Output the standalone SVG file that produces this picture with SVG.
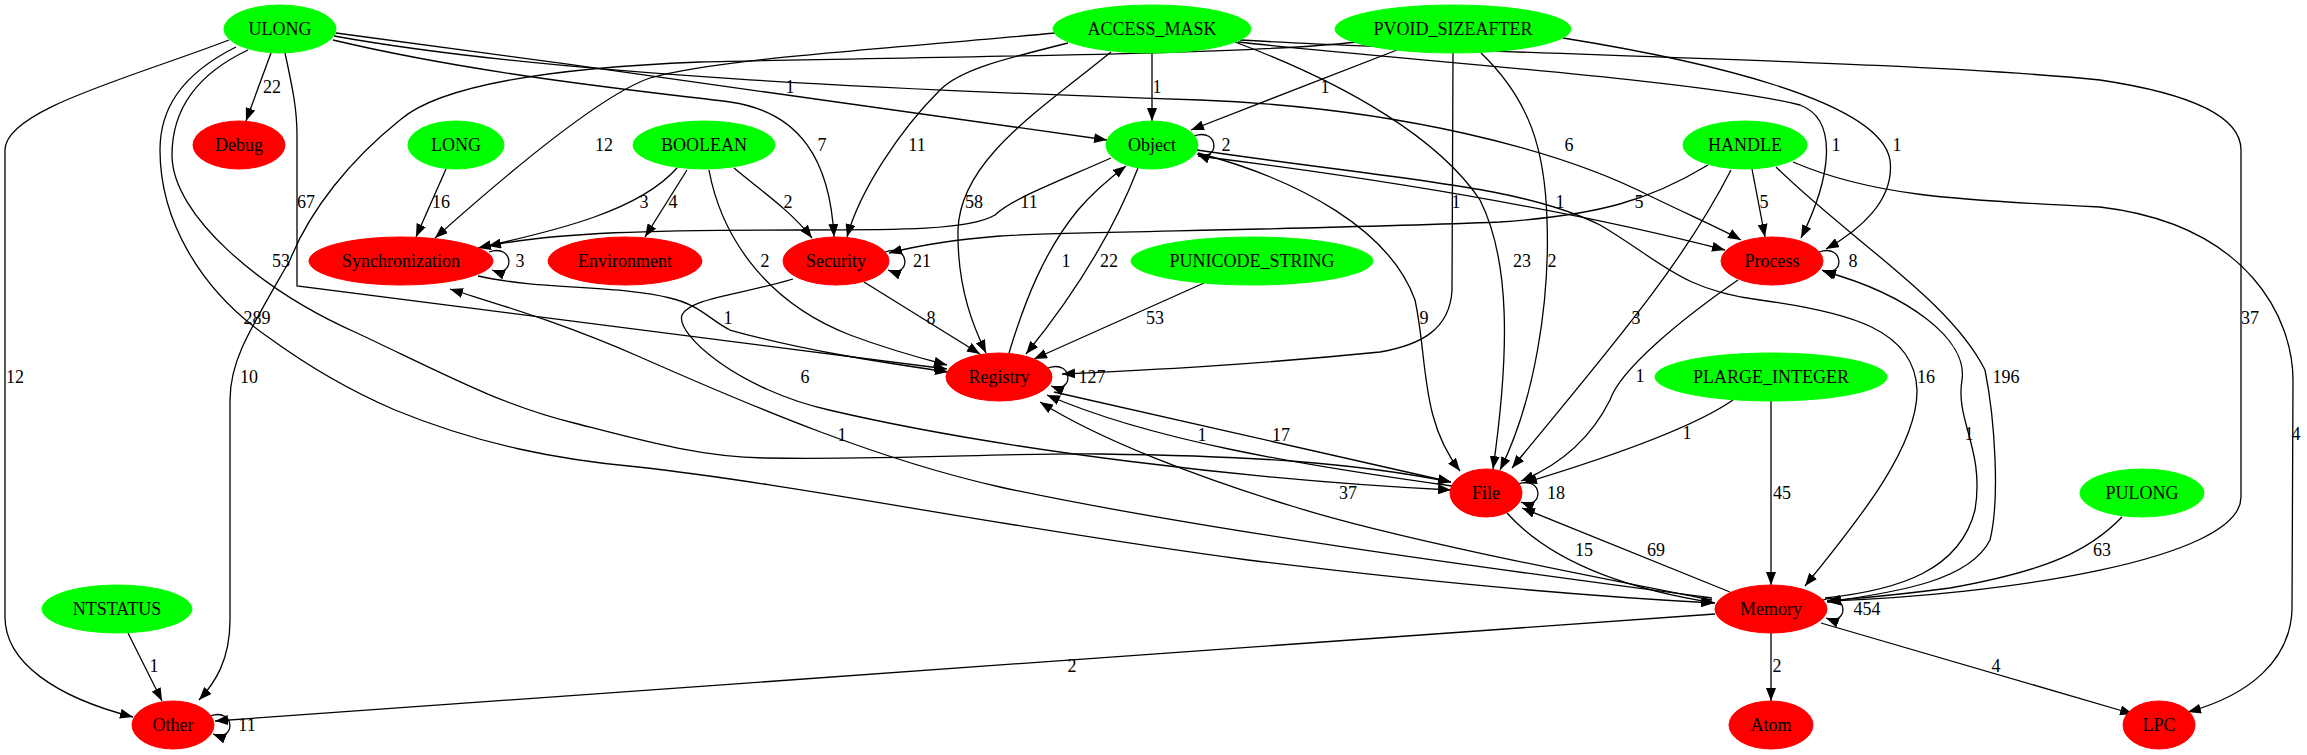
<svg xmlns="http://www.w3.org/2000/svg" width="2307" height="755" viewBox="0 0 2307 755">
<defs>
<marker id="ah" markerUnits="userSpaceOnUse" markerWidth="14" markerHeight="10" refX="13" refY="5" orient="auto"><path d="M0,0 L13,5 L0,10 Z" fill="#000"/></marker>
<style>
.n text, .e text { font-family: "Liberation Serif", "Times New Roman", serif; font-size: 18px; fill: #000; text-anchor: middle; }
.g ellipse { fill: #00ff00; stroke: #00ff00; }
.r ellipse { fill: #ff0000; stroke: #ff0000; }
.e path { fill: none; stroke: #000; stroke-width: 1.3; marker-end: url(#ah); }
</style>
</defs>
<rect width="2307" height="755" fill="#fff"/>
<g id="connectors">
<g class="e"><path d="M271,53 L246,121"/><text x="272" y="93">22</text></g>
<g class="e"><path d="M229,40 C130,78 5,110 5,150 L5,617 C5,662 55,697 133,717"/><text x="15" y="383">12</text></g>
<g class="e"><path d="M285,53 C293,90 297,110 297,135 L297,286 L947,369"/><text x="306" y="208">67</text></g>
<g class="e"><path d="M248,50 C195,75 172,110 172,155 C172,215 260,290 357,333 C440,372 500,405 574,423 C640,440 700,457 765,458 C900,460 1000,453 1100,454 C1250,456 1350,462 1451,482"/><text x="281" y="267">53</text></g>
<g class="e"><path d="M236,47 C180,75 160,110 160,150 C160,220 200,290 268,337 C320,375 360,395 395,410 C480,445 560,460 638,467 C800,485 1000,527 1248,560 C1450,585 1600,597 1714,603"/><text x="257" y="324">289</text></g>
<g class="e"><path d="M333,40 C480,75 650,92 730,102 C800,112 830,160 834,237"/><text x="822" y="151">7</text></g>
<g class="e"><path d="M336,33 C600,68 900,110 1107,140"/><text x="790" y="93">1</text></g>
<g class="e"><path d="M334,36 C550,75 900,90 1200,100 C1400,108 1560,150 1650,196 C1700,220 1725,231 1741,240"/><text x="1569" y="151">6</text></g>
<g class="e"><path d="M1055,33 C900,48 720,58 650,78 C600,95 500,180 435,238"/><text x="604" y="151">12</text></g>
<g class="e"><path d="M1357,42 C1250,55 900,57 700,62 C550,68 440,85 400,120 C350,160 310,210 290,260 C250,330 230,360 230,400 L230,620 C230,660 215,683 199,700"/><text x="249" y="383">10</text></g>
<g class="e"><path d="M1068,43 C1000,60 960,70 940,90 C900,130 860,190 847,237"/><text x="917" y="151">11</text></g>
<g class="e"><path d="M1111,52 C1040,110 960,160 958,230 C957,290 975,330 986,353"/><text x="974" y="208">58</text></g>
<g class="e"><path d="M1152,53 L1152,121"/><text x="1157" y="93">1</text></g>
<g class="e"><path d="M1235,42 C1350,85 1440,140 1480,200 C1510,260 1510,350 1493,469"/><text x="1522" y="267">23</text></g>
<g class="e"><path d="M1238,42 C1400,60 1700,80 1800,105 C1840,120 1830,180 1801,238"/><text x="1836" y="151">1</text></g>
<g class="e"><path d="M1240,40 C1500,55 1900,60 2100,80 C2200,95 2241,120 2241,150 L2241,497 C2241,560 2000,595 1828,601"/><text x="2250" y="324">37</text></g>
<g class="e"><path d="M1397,50 L1191,130"/><text x="1325" y="93">1</text></g>
<g class="e"><path d="M1453,53 L1452,290 C1450,330 1420,345 1380,352 C1250,365 1150,370 1062,374"/><text x="1456" y="208">1</text></g>
<g class="e"><path d="M1481,53 C1530,100 1545,150 1547,220 C1550,300 1535,400 1500,470"/><text x="1552" y="267">2</text></g>
<g class="e"><path d="M1563,38 C1700,60 1880,100 1890,160 C1895,200 1860,230 1826,249"/><text x="1897" y="151">1</text></g>
<g class="e"><path d="M446,169 L416,237"/><text x="441" y="208">16</text></g>
<g class="e"><path d="M677,168 C640,210 560,230 478,248"/><text x="644" y="208">3</text></g>
<g class="e"><path d="M687,170 L645,237"/><text x="673" y="208">4</text></g>
<g class="e"><path d="M734,168 C760,190 790,210 812,238"/><text x="788" y="208">2</text></g>
<g class="e"><path d="M709,170 C720,230 760,300 850,335 C890,350 920,358 947,365"/><text x="765" y="267">2</text></g>
<g class="e"><path d="M478,276 C540,290 620,285 670,298 C700,305 710,320 730,330 C800,350 880,362 948,372"/><text x="728" y="324">1</text></g>
<g class="e"><path d="M1111,158 C1050,185 1010,200 995,215 C970,230 900,230 800,230 C650,230 560,232 488,246"/><text x="1029" y="208">11</text></g>
<g class="e"><path d="M1708,165 C1650,200 1600,215 1500,222 C1300,230 1050,232 1000,236 C950,240 920,245 889,253"/><text x="1639" y="208">5</text></g>
<g class="e"><path d="M1138,168 C1110,240 1070,300 1026,354"/><text x="1109" y="267">22</text></g>
<g class="e"><path d="M1009,353 C1025,300 1045,250 1078,210 C1095,190 1110,178 1126,166"/><text x="1066" y="267">1</text></g>
<g class="e"><path d="M1198,153 C1300,180 1390,230 1415,300 C1428,360 1420,420 1460,471"/><text x="1424" y="324">9</text></g>
<g class="e"><path d="M1198,156 C1350,175 1550,205 1725,250"/><text x="1560" y="208">1</text></g>
<g class="e"><path d="M1197,150 C1400,180 1520,185 1600,225 C1660,260 1680,290 1760,300 C1850,312 1915,330 1917,390 C1918,450 1850,530 1805,586"/><text x="1926" y="383">16</text></g>
<g class="e"><path d="M1752,169 L1765,237"/><text x="1764" y="208">5</text></g>
<g class="e"><path d="M1731,170 C1680,270 1600,360 1512,468"/><text x="1636" y="324">3</text></g>
<g class="e"><path d="M1776,167 C1850,240 1950,300 1985,370 C1995,420 2000,500 1990,540 C1970,580 1900,592 1827,602"/><text x="2006" y="383">196</text></g>
<g class="e"><path d="M1793,162 C1870,195 1950,200 2100,207 C2250,225 2293,320 2293,380 L2292,610 C2290,660 2250,695 2188,712"/><text x="2296" y="440">4</text></g>
<g class="e"><path d="M1738,280 C1680,320 1620,370 1610,400 C1590,440 1560,465 1521,481"/><text x="1640" y="382">1</text></g>
<g class="e"><path d="M1825,598 C1900,590 1960,570 1975,510 C1985,450 1955,420 1962,380 C1968,340 1910,295 1823,271"/><text x="1969" y="440">1</text></g>
<g class="e"><path d="M1204,283 L1034,359"/><text x="1155" y="324">53</text></g>
<g class="e"><path d="M864,282 L980,354"/><text x="931" y="324">8</text></g>
<g class="e"><path d="M1054,392 L1451,482"/><text x="1281" y="441">17</text></g>
<g class="e"><path d="M1452,486 C1300,465 1150,440 1047,395"/><text x="1202" y="441">1</text></g>
<g class="e"><path d="M1733,400 C1690,430 1600,460 1524,483"/><text x="1687" y="439">1</text></g>
<g class="e"><path d="M1771,401 L1771,585"/><text x="1782" y="499">45</text></g>
<g class="e"><path d="M1507,513 C1540,550 1600,585 1715,603"/><text x="1584" y="556">15</text></g>
<g class="e"><path d="M1730,592 L1522,508"/><text x="1656" y="556">69</text></g>
<g class="e"><path d="M2122,517 C2090,550 2050,570 1950,588 C1890,596 1860,598 1827,601"/><text x="2102" y="556">63</text></g>
<g class="e"><path d="M1715,614 L215,721"/><text x="1072" y="672">2</text></g>
<g class="e"><path d="M1771,633 L1771,701"/><text x="1777" y="672">2</text></g>
<g class="e"><path d="M1821,623 L2133,714"/><text x="1996" y="672">4</text></g>
<g class="e"><path d="M128,633 L162,701"/><text x="154" y="672">1</text></g>
<g class="e"><path d="M1712,598 C1500,570 1200,530 1000,487 C880,460 760,410 640,357 C560,322 500,305 450,289"/><text x="842" y="441">1</text></g>
<g class="e"><path d="M1712,600 C1600,578 1400,540 1295,507 C1200,478 1100,440 1040,402"/><text x="1348" y="499">37</text></g>
<g class="e"><path d="M793,279 C740,295 690,298 682,315 C675,335 740,390 829,410 C1000,450 1250,480 1451,490"/><text x="805" y="383">6</text></g>
<g class="e"><path d="M1194,136 C1220,127 1220,163 1197,154"/><text x="1226" y="151">2</text></g>
<g class="e"><path d="M1048,368 C1074,359 1074,395 1051,386"/><text x="1092" y="383">127</text></g>
<g class="e"><path d="M489,252 C515,243 515,279 492,270"/><text x="520" y="267">3</text></g>
<g class="e"><path d="M885,252 C911,243 911,279 888,270"/><text x="922" y="267">21</text></g>
<g class="e"><path d="M1819,252 C1845,243 1845,279 1822,270"/><text x="1853" y="267">8</text></g>
<g class="e"><path d="M1518,484 C1544,475 1544,511 1521,502"/><text x="1556" y="499">18</text></g>
<g class="e"><path d="M1823,600 C1849,591 1849,627 1826,618"/><text x="1867" y="615">454</text></g>
<g class="e"><path d="M210,716 C236,707 236,743 213,734"/><text x="247" y="731">11</text></g>
</g>
<g id="node-ULONG" class="n g"><ellipse cx="280" cy="29" rx="56" ry="24"/><text x="280" y="35">ULONG</text></g>
<g id="node-ACCESS_MASK" class="n g"><ellipse cx="1152" cy="29" rx="99" ry="24"/><text x="1152" y="35">ACCESS_MASK</text></g>
<g id="node-PVOID_SIZEAFTER" class="n g"><ellipse cx="1453" cy="29" rx="118" ry="24"/><text x="1453" y="35">PVOID_SIZEAFTER</text></g>
<g id="node-Debug" class="n r"><ellipse cx="239" cy="145" rx="46" ry="24"/><text x="239" y="151">Debug</text></g>
<g id="node-LONG" class="n g"><ellipse cx="456" cy="145" rx="48" ry="24"/><text x="456" y="151">LONG</text></g>
<g id="node-BOOLEAN" class="n g"><ellipse cx="704" cy="145" rx="71" ry="24"/><text x="704" y="151">BOOLEAN</text></g>
<g id="node-Object" class="n g"><ellipse cx="1152" cy="145" rx="46" ry="24"/><text x="1152" y="151">Object</text></g>
<g id="node-HANDLE" class="n g"><ellipse cx="1745" cy="145" rx="62" ry="24"/><text x="1745" y="151">HANDLE</text></g>
<g id="node-Synchronization" class="n r"><ellipse cx="401" cy="261" rx="92" ry="24"/><text x="401" y="267">Synchronization</text></g>
<g id="node-Environment" class="n r"><ellipse cx="625" cy="261" rx="77" ry="24"/><text x="625" y="267">Environment</text></g>
<g id="node-Security" class="n r"><ellipse cx="836" cy="261" rx="53" ry="24"/><text x="836" y="267">Security</text></g>
<g id="node-PUNICODE_STRING" class="n g"><ellipse cx="1252" cy="261" rx="121" ry="24"/><text x="1252" y="267">PUNICODE_STRING</text></g>
<g id="node-Process" class="n r"><ellipse cx="1772" cy="261" rx="51" ry="24"/><text x="1772" y="267">Process</text></g>
<g id="node-Registry" class="n r"><ellipse cx="999" cy="377" rx="53" ry="24"/><text x="999" y="383">Registry</text></g>
<g id="node-PLARGE_INTEGER" class="n g"><ellipse cx="1771" cy="377" rx="116" ry="24"/><text x="1771" y="383">PLARGE_INTEGER</text></g>
<g id="node-File" class="n r"><ellipse cx="1486" cy="493" rx="36" ry="24"/><text x="1486" y="499">File</text></g>
<g id="node-PULONG" class="n g"><ellipse cx="2142" cy="493" rx="62" ry="24"/><text x="2142" y="499">PULONG</text></g>
<g id="node-NTSTATUS" class="n g"><ellipse cx="117" cy="609" rx="75" ry="24"/><text x="117" y="615">NTSTATUS</text></g>
<g id="node-Memory" class="n r"><ellipse cx="1771" cy="609" rx="56" ry="24"/><text x="1771" y="615">Memory</text></g>
<g id="node-Other" class="n r"><ellipse cx="173" cy="725" rx="41" ry="24"/><text x="173" y="731">Other</text></g>
<g id="node-Atom" class="n r"><ellipse cx="1771" cy="725" rx="42" ry="24"/><text x="1771" y="731">Atom</text></g>
<g id="node-LPC" class="n r"><ellipse cx="2159" cy="725" rx="36" ry="24"/><text x="2159" y="731">LPC</text></g>
</svg>
